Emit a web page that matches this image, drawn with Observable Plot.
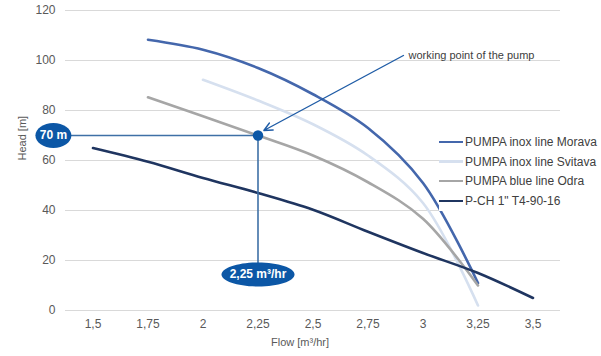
<!DOCTYPE html>
<html>
<head>
<meta charset="utf-8">
<script src="https://cdn.jsdelivr.net/npm/d3@7"></script>
<script src="https://cdn.jsdelivr.net/npm/@observablehq/plot@0.6"></script>
<style>
  body { margin: 0; background: #fff; }
  #wrap { position: relative; width: 601px; height: 356px; font-family: "Liberation Sans", Arial, sans-serif; }
  #legend { position: absolute; left: 439px; top: 132px; background: #fff; padding: 0 2px 0 0; }
  .row { display: flex; align-items: center; height: 19.7px; font-size: 12px; color: #404040; white-space: nowrap; }
  .sw { width: 24px; height: 2.5px; margin-right: 2px; }
</style>
</head>
<body>
<div id="wrap"></div>
<script>
// ---- data ----
const xTicks = [1.5, 1.75, 2, 2.25, 2.5, 2.75, 3, 3.25, 3.5];
const xTickLabels = ["1,5", "1,75", "2", "2,25", "2,5", "2,75", "3", "3,25", "3,5"];
const yTicks = [0, 20, 40, 60, 80, 100, 120];

const seriesNames = ["PUMPA inox line Morava", "PUMPA inox line Svitava", "PUMPA blue line Odra", "P-CH 1\" T4-90-16"];
const seriesColors = ["#4467ac", "#d6e0ef", "#a6a6a6", "#1f3560"];

const moravaFlow = [1.75, 2, 2.25, 2.5, 2.75, 3, 3.25];
const moravaHead = [108.3, 104.3, 97, 86.5, 73, 51, 11];
const svitavaFlow = [2, 2.25, 2.5, 2.75, 3, 3.25];
const svitavaHead = [92.3, 84, 74.5, 62, 43, 2];
const odraFlow = [1.75, 2, 2.25, 2.5, 2.75, 3, 3.25];
const odraHead = [85.3, 77.7, 70, 62, 51.3, 36.7, 10];
const pchFlow = [1.5, 1.75, 2, 2.25, 2.5, 2.75, 3, 3.25, 3.5];
const pchHead = [65, 59.5, 53, 47, 40.3, 31.5, 23, 15, 5];

const workFlow = 2.25, workHead = 70;
const headBadgeFlow = 1.32, flowBadgeHead = 14.4;
const headBadgeText = "70 m", flowBadgeText = "2,25 m³/hr";
const noteText = "working point of the pump";
const noteArrow = {x1: 2.911, y1: 102, x2: 2.2765, y2: 72};
const noteFlow = 2.934, noteHead = 102;
const xTitle = "Flow [m³/hr]", yTitle = "Head [m]";

// ---- build ----
const flows = [moravaFlow, svitavaFlow, odraFlow, pchFlow];
const heads = [moravaHead, svitavaHead, odraHead, pchHead];
const rows = [];
seriesNames.forEach((s, i) => flows[i].forEach((f, j) => rows.push({series: s, flow: f, head: heads[i][j]})));

function ellipse(rx, ry) {
  const k = 0.5523;
  return {draw(ctx) {
    ctx.moveTo(rx, 0);
    ctx.bezierCurveTo(rx, ry * k, rx * k, ry, 0, ry);
    ctx.bezierCurveTo(-rx * k, ry, -rx, ry * k, -rx, 0);
    ctx.bezierCurveTo(-rx, -ry * k, -rx * k, -ry, 0, -ry);
    ctx.bezierCurveTo(rx * k, -ry, rx, -ry * k, rx, 0);
    ctx.closePath();
  }};
}

const badgeBlue = "#0c57a6";
const crossBlue = "#3e70a6";

const chart = Plot.plot({
  width: 601,
  height: 356,
  marginLeft: 65,
  marginRight: 41,
  marginTop: 10,
  marginBottom: 46,
  style: {fontFamily: "'Liberation Sans', Arial, sans-serif", fontSize: "12px", color: "#595959", background: "#fff"},
  x: {domain: [1.375, 3.625], ticks: xTicks, tickFormat: (d) => xTickLabels[xTicks.indexOf(d)], tickSize: 0, tickPadding: 9, label: null},
  y: {domain: [0, 120], ticks: yTicks, tickSize: 0, tickPadding: 10, label: null},
  color: {domain: seriesNames, range: seriesColors},
  marks: [
    Plot.gridY(yTicks, {stroke: "#d9d9d9", strokeOpacity: 1}),
    Plot.axisX({ticks: xTicks, tickFormat: (d) => xTickLabels[xTicks.indexOf(d)], tickSize: 0, tickPadding: 9, label: null, fontSize: 12}),
    Plot.axisY({ticks: yTicks, tickSize: 0, tickPadding: 10, label: null, fontSize: 12}),
    Plot.line(rows, {x: "flow", y: "head", z: "series", stroke: "series", strokeWidth: 2.6, curve: "catmull-rom"}),
    Plot.ruleY([workHead], {x1: headBadgeFlow, x2: workFlow, stroke: crossBlue, strokeWidth: 1.6}),
    Plot.ruleX([workFlow], {y1: flowBadgeHead, y2: workHead, stroke: crossBlue, strokeWidth: 1.6}),
    Plot.dot([{x: workFlow, y: workHead}], {x: "x", y: "y", r: 5.2, fill: badgeBlue, stroke: "none"}),
    Plot.arrow([noteArrow], {x1: "x1", y1: "y1", x2: "x2", y2: "y2", stroke: "#1f5ca6", strokeWidth: 1.4, headLength: 10, headAngle: 50}),
    Plot.text([noteText], {x: noteFlow, y: noteHead, textAnchor: "start", fontSize: 11, fill: "#404040"}),
    Plot.dot([{x: headBadgeFlow, y: workHead}], {x: "x", y: "y", symbol: ellipse(18, 12.5), r: 1, fill: badgeBlue, stroke: "none"}),
    Plot.text([headBadgeText], {x: headBadgeFlow, y: workHead, fill: "#fff", fontWeight: "bold", fontSize: 12}),
    Plot.dot([{x: workFlow, y: flowBadgeHead}], {x: "x", y: "y", symbol: ellipse(36.5, 12), r: 1, fill: badgeBlue, stroke: "none"}),
    Plot.text([flowBadgeText], {x: workFlow, y: flowBadgeHead, fill: "#fff", fontWeight: "bold", fontSize: 12}),
    Plot.text([xTitle], {frameAnchor: "bottom", dx: -13, dy: 35, fontSize: 11, fill: "#595959"}),
    Plot.text([yTitle], {frameAnchor: "left", dx: -43, rotate: -90, fontSize: 11, fill: "#595959"})
  ]
});

const wrap = document.getElementById("wrap");
wrap.appendChild(chart);

const legend = document.createElement("div");
legend.id = "legend";
seriesNames.forEach((s, i) => {
  const row = document.createElement("div");
  row.className = "row";
  const sw = document.createElement("span");
  sw.className = "sw";
  sw.style.background = seriesColors[i];
  const t = document.createElement("span");
  t.textContent = s;
  row.appendChild(sw);
  row.appendChild(t);
  legend.appendChild(row);
});
wrap.appendChild(legend);
</script>
</body>
</html>
